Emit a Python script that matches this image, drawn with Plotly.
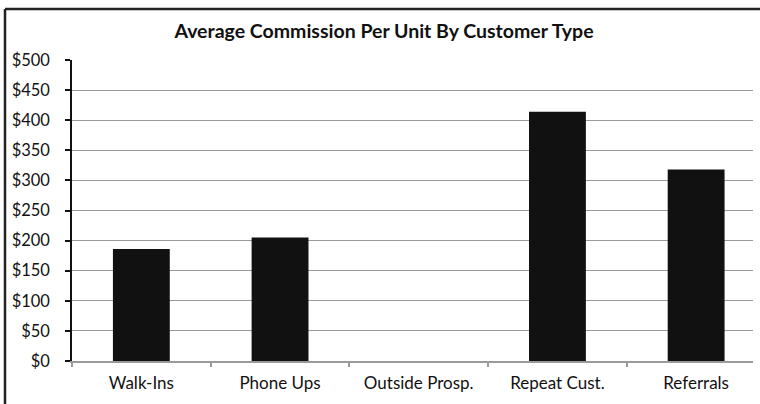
import plotly.graph_objects as go

categories = ["Walk-Ins", "Phone Ups", "Outside Prosp.", "Repeat Cust.", "Referrals"]
commission = [186, 205, 0, 414, 318]
y_tick_values = [0, 50, 100, 150, 200, 250, 300, 350, 400, 450, 500]
y_tick_labels = ["$0", "$50", "$100", "$150", "$200", "$250", "$300", "$350", "$400", "$450", "$500"]

W, H = 760, 404
L, R, T, B = 72, 7, 60, 43
PW, PH = W - L - R, H - T - B

FONT = "Lato"

fig = go.Figure()
fig.add_trace(go.Bar(
    x=categories, y=commission,
    marker=dict(color="#111111", line=dict(width=0)),
    width=0.41, hoverinfo="skip",
))

def px_x(p):
    return (p - L) / PW

def px_y(p):
    return 1 - (p - T) / PH

# outer chart frame (cropped on right and bottom)
fig.add_shape(type="line", xref="paper", yref="paper",
              x0=px_x(5), x1=px_x(762), y0=px_y(9), y1=px_y(9),
              line=dict(color="#222222", width=2.5))
fig.add_shape(type="line", xref="paper", yref="paper",
              x0=px_x(5), x1=px_x(5), y0=px_y(9), y1=px_y(406),
              line=dict(color="#222222", width=2.5))

fig.update_layout(
    width=W, height=H,
    margin=dict(l=L, r=R, t=T, b=B, autoexpand=False),
    paper_bgcolor="white", plot_bgcolor="white",
    showlegend=False,
    font=dict(family=FONT, size=17, color="#111111"),
    title=dict(text="<b>Average Commission Per Unit By Customer Type</b>",
               x=384 / W, xref="container", xanchor="center",
               y=1 - 31 / H, yref="container", yanchor="middle",
               font=dict(family=FONT, size=19.5, color="#111111")),
)
fig.update_yaxes(
    range=[0, 500], tickvals=y_tick_values, ticktext=y_tick_labels,
    showgrid=True, gridcolor="#9a9a9a", gridwidth=1,
    showline=True, linecolor="#111111", linewidth=1.5,
    ticks="outside", ticklen=5, tickcolor="#111111", tickwidth=1.5,
    ticklabelstandoff=12,
    zeroline=False, fixedrange=True,
    tickfont=dict(family=FONT, size=16.5, color="#111111"),
)
fig.update_xaxes(
    type="category", range=[-0.5, 4.41],
    showline=True, linecolor="#9a9a9a", linewidth=1.5,
    ticks="outside", tickson="boundaries", ticklen=4, tickcolor="#9a9a9a", tickwidth=1.5,
    ticklabelstandoff=6,
    showgrid=False, fixedrange=True,
    tickfont=dict(family=FONT, size=17, color="#111111"),
)

fig.write_html("out.html")
